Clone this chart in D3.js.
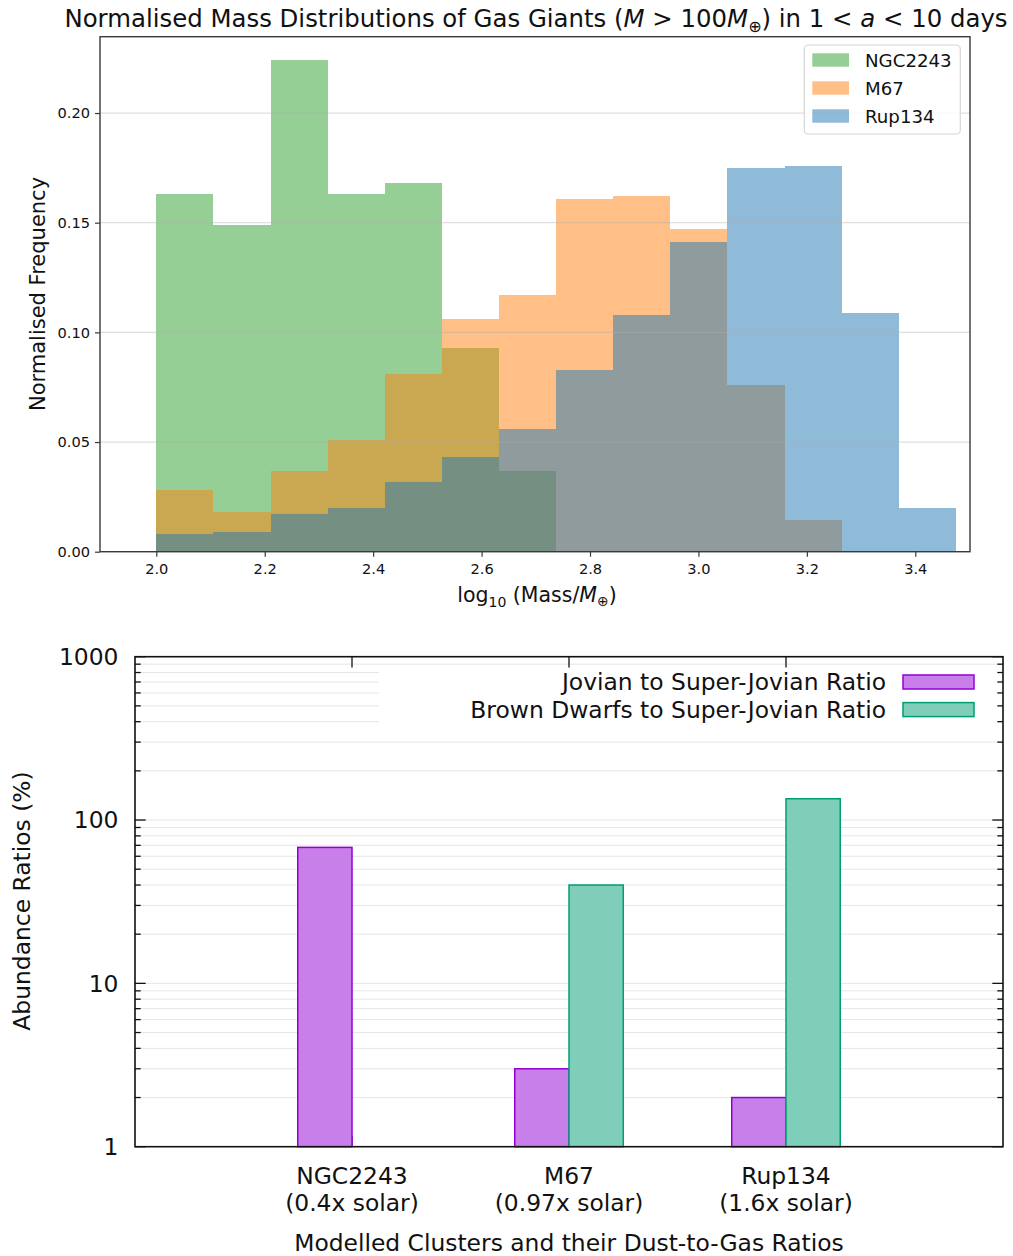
<!DOCTYPE html>
<html>
<head>
<meta charset="utf-8">
<script src="https://cdn.jsdelivr.net/npm/d3@7"></script>
<style>
html,body{margin:0;padding:0;background:#fff;}
svg{display:block;font-family:"DejaVu Sans",sans-serif;}
</style>
</head>
<body>
<svg id="chart" width="1013" height="1256"></svg>
<script>
// ---------- DATA: top histogram ----------
const binEdges = [2.0, 2.1054, 2.2107, 2.3161, 2.4214, 2.5268, 2.6321, 2.7375, 2.8429, 2.9482, 3.0536, 3.1589, 3.2643, 3.3696, 3.475];
const histSeries = ["NGC2243", "M67", "Rup134"];
const ngc2243Freq = [0.163, 0.149, 0.224, 0.163, 0.168, 0.093, 0.037, 0, 0, 0, 0, 0, 0, 0];
const m67Freq     = [0.028, 0.018, 0.037, 0.051, 0.081, 0.106, 0.117, 0.161, 0.162, 0.147, 0.076, 0.0145, 0, 0];
const rup134Freq  = [0.008, 0.009, 0.017, 0.020, 0.032, 0.043, 0.056, 0.083, 0.108, 0.141, 0.175, 0.176, 0.109, 0.020];
const histXTicks = [2.0, 2.2, 2.4, 2.6, 2.8, 3.0, 3.2, 3.4];
const histYTicks = [0.00, 0.05, 0.10, 0.15, 0.20];

// ---------- DATA: bottom bar chart ----------
const clusters = ["NGC2243", "M67", "Rup134"];
const dustToGas = ["(0.4x solar)", "(0.97x solar)", "(1.6x solar)"];
const jovianRatio = [68, 3, 2];
const brownDwarfRatio = [null, 40, 135];
const barSeries = ["Jovian to Super-Jovian Ratio", "Brown Dwarfs to Super-Jovian Ratio"];
const logTicks = [1, 10, 100, 1000];

const svg = d3.select("#chart");

// ================= TOP CHART =================
const T = {left: 100, right: 970, top: 36.7, bottom: 551.7};
const x1 = d3.scaleLinear().domain([1.89615, 3.50091]).range([T.left, T.right]);
const y1 = d3.scaleLinear().domain([0, 0.2348]).range([T.bottom, T.top]);
const histColors = ["#2ca02c", "#ff7f0e", "#1f77b4"];
const histData = [ngc2243Freq, m67Freq, rup134Freq];

const gTop = svg.append("g");
histData.forEach((vals, si) => {
  gTop.append("g").selectAll("rect")
    .data(vals.map((v, i) => ({v, x0: binEdges[i], x1: binEdges[i + 1]})).filter(d => d.v > 0))
    .join("rect")
    .attr("x", d => x1(d.x0))
    .attr("width", d => x1(d.x1) - x1(d.x0))
    .attr("y", d => y1(d.v))
    .attr("height", d => y1(0) - y1(d.v))
    .attr("fill", histColors[si])
    .attr("fill-opacity", 0.5)
    .attr("shape-rendering", "crispEdges");
});

// grid
gTop.append("g").selectAll("line").data(histYTicks).join("line")
  .attr("x1", T.left).attr("x2", T.right)
  .attr("y1", d => y1(d)).attr("y2", d => y1(d))
  .attr("stroke", "#b0b0b0").attr("stroke-opacity", 0.4).attr("stroke-width", 1.2);

// spines
gTop.append("rect")
  .attr("x", T.left).attr("y", T.top)
  .attr("width", T.right - T.left).attr("height", T.bottom - T.top)
  .attr("fill", "none").attr("stroke", "#3a3a3a").attr("stroke-width", 1.4);

// axes
const xAxis1 = d3.axisBottom(x1).tickValues(histXTicks).tickFormat(d3.format(".1f")).tickSize(5).tickPadding(6.5);
const gx1 = gTop.append("g").attr("transform", `translate(0,${T.bottom})`).call(xAxis1);
const yAxis1 = d3.axisLeft(y1).tickValues(histYTicks).tickFormat(d3.format(".2f")).tickSize(5).tickPadding(5);
const gy1 = gTop.append("g").attr("transform", `translate(${T.left},0)`).call(yAxis1);
[gx1, gy1].forEach(g => {
  g.select(".domain").remove();
  g.selectAll(".tick line").attr("stroke", "#3a3a3a").attr("stroke-width", 1.2);
  g.selectAll(".tick text").attr("fill", "#111").style("font-size", "14.6px").style("font-family", "DejaVu Sans");
});

// title
const title = gTop.append("text").attr("x", 536).attr("y", 27).attr("text-anchor", "middle")
  .style("font-size", "24.4px").attr("fill", "#111");
title.append("tspan").text("Normalised Mass Distributions of Gas Giants (");
title.append("tspan").attr("font-style", "italic").text("M");
title.append("tspan").text(" > 100");
title.append("tspan").attr("font-style", "italic").text("M");
title.append("tspan").attr("dy", 4.5).style("font-size", "16px").text("⊕");
title.append("tspan").attr("dy", -4.5).text(") in 1 < ");
title.append("tspan").attr("font-style", "italic").text("a");
title.append("tspan").text(" < 10 days");

// x label
const xl = gTop.append("text").attr("x", 537).attr("y", 602).attr("text-anchor", "middle")
  .style("font-size", "20.5px").attr("fill", "#111");
xl.append("tspan").text("log");
xl.append("tspan").attr("dy", 5).style("font-size", "14px").text("10");
xl.append("tspan").attr("dy", -5).text(" (Mass/");
xl.append("tspan").attr("font-style", "italic").text("M");
xl.append("tspan").attr("dy", 4).style("font-size", "14px").text("⊕");
xl.append("tspan").attr("dy", -4).text(")");

// y label
gTop.append("text").attr("transform", "translate(44.5,294) rotate(-90)")
  .attr("text-anchor", "middle").style("font-size", "21px").attr("fill", "#111")
  .text("Normalised Frequency");

// legend
const lg = gTop.append("g");
lg.append("rect").attr("x", 804.3).attr("y", 45).attr("width", 156).attr("height", 89)
  .attr("rx", 4).attr("fill", "#fff").attr("fill-opacity", 0.8)
  .attr("stroke", "#d6d6d6").attr("stroke-width", 1.2);
histSeries.forEach((name, i) => {
  const cy = 60 + i * 28;
  lg.append("rect").attr("x", 812.3).attr("y", cy - 6.7).attr("width", 36.7).attr("height", 13.4)
    .attr("fill", histColors[i]).attr("fill-opacity", 0.5);
  lg.append("text").attr("x", 865).attr("y", cy + 6.6).style("font-size", "18.2px").attr("fill", "#111").text(name);
});

// ================= BOTTOM CHART =================
const B = {left: 135, right: 1003, top: 656.7, bottom: 1146.7};
const x2 = d3.scaleLinear().domain([-1, 3]).range([B.left, B.right]);
const y2 = d3.scaleLog().domain([1, 1000]).range([B.bottom, B.top]);
const barW = 0.25;
const jovColor = "#9400d3", bdColor = "#009e73";
const jovFill = "#c87fe9", bdFill = "#7fceb9";
const fs = "23.4px";

const gB = svg.append("g");
const gridVals = [];
[1, 10, 100].forEach(k => { for (let m = 1; m <= 9; m++) gridVals.push(k * m); });
gridVals.push(1000);
const innerGrid = gridVals.filter(v => v > 1 && v < 1000);
gB.append("g").selectAll("line").data(innerGrid).join("line")
  .attr("x1", B.left).attr("x2", B.right)
  .attr("y1", d => y2(d)).attr("y2", d => y2(d))
  .attr("stroke", "#e6e6e6").attr("stroke-width", 1);

// opaque key box
gB.append("rect").attr("x", 379).attr("y", 667).attr("width", B.right - 379).attr("height", 64).attr("fill", "#fff");

// bottom category ticks (under bars)
clusters.forEach((c, i) => {
  gB.append("line").attr("x1", x2(i)).attr("x2", x2(i)).attr("y1", B.bottom).attr("y2", B.bottom - 10.7)
    .attr("stroke", "#111").attr("stroke-width", 1.3);
});

// bars
gB.append("g").selectAll("rect").data(jovianRatio.map((v, i) => ({v, i})).filter(d => d.v != null)).join("rect")
  .attr("x", d => x2(d.i - barW)).attr("width", d => x2(d.i) - x2(d.i - barW))
  .attr("y", d => y2(d.v)).attr("height", d => y2(1) - y2(d.v))
  .attr("fill", jovFill).attr("stroke", jovColor).attr("stroke-width", 1.5);
gB.append("g").selectAll("rect").data(brownDwarfRatio.map((v, i) => ({v, i})).filter(d => d.v != null)).join("rect")
  .attr("x", d => x2(d.i)).attr("width", d => x2(d.i + barW) - x2(d.i))
  .attr("y", d => y2(d.v)).attr("height", d => y2(1) - y2(d.v))
  .attr("fill", bdFill).attr("stroke", bdColor).attr("stroke-width", 1.5);

// frame
gB.append("rect").attr("x", B.left).attr("y", B.top).attr("width", B.right - B.left).attr("height", B.bottom - B.top)
  .attr("fill", "none").attr("stroke", "#111").attr("stroke-width", 1.6);

// log ticks left & right (inward)
gridVals.forEach(v => {
  const major = logTicks.includes(v);
  const len = major ? 10.7 : 5.7;
  const yy = y2(v);
  gB.append("line").attr("x1", B.left).attr("x2", B.left + len).attr("y1", yy).attr("y2", yy)
    .attr("stroke", "#111").attr("stroke-width", 1.3);
  gB.append("line").attr("x1", B.right).attr("x2", B.right - len).attr("y1", yy).attr("y2", yy)
    .attr("stroke", "#111").attr("stroke-width", 1.3);
});
// top category ticks
clusters.forEach((c, i) => {
  gB.append("line").attr("x1", x2(i)).attr("x2", x2(i)).attr("y1", B.top).attr("y2", B.top + 10.7)
    .attr("stroke", "#111").attr("stroke-width", 1.3);
});

// y tick labels
gB.append("g").selectAll("text").data(logTicks).join("text")
  .attr("x", 118.5).attr("y", d => y2(d)).attr("dy", "0.36em").attr("text-anchor", "end")
  .style("font-size", fs).attr("fill", "#111").text(d => d3.format("d")(d));

// category labels
clusters.forEach((c, i) => {
  gB.append("text").attr("x", x2(i)).attr("y", 1183.5).attr("text-anchor", "middle")
    .style("font-size", fs).attr("fill", "#111").text(c);
  gB.append("text").attr("x", x2(i)).attr("y", 1210.5).attr("text-anchor", "middle")
    .style("font-size", fs).attr("fill", "#111").text(dustToGas[i]);
});

// axis labels
gB.append("text").attr("x", 569).attr("y", 1251).attr("text-anchor", "middle")
  .style("font-size", fs).attr("fill", "#111").text("Modelled Clusters and their Dust-to-Gas Ratios");
gB.append("text").attr("transform", "translate(30,901) rotate(-90)").attr("text-anchor", "middle")
  .style("font-size", fs).attr("fill", "#111").text("Abundance Ratios (%)");

// key
const keyRows = [{y: 682, fill: jovFill, stroke: jovColor}, {y: 709.6, fill: bdFill, stroke: bdColor}];
barSeries.forEach((name, i) => {
  const r = keyRows[i];
  gB.append("text").attr("x", 886).attr("y", r.y + 8.4).attr("text-anchor", "end")
    .style("font-size", fs).attr("fill", "#111").text(name);
  gB.append("rect").attr("x", 903).attr("y", r.y - 7).attr("width", 71).attr("height", 14)
    .attr("fill", r.fill).attr("stroke", r.stroke).attr("stroke-width", 1.5);
});
</script>
</body>
</html>
